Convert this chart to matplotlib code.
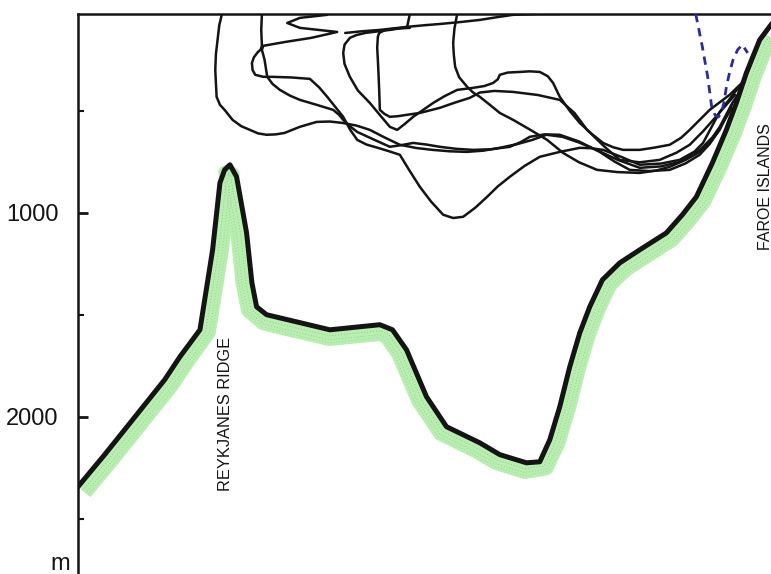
import numpy as np
import matplotlib
matplotlib.use("Agg")
import matplotlib.pyplot as plt

plt.rcParams['font.family'] = ['Liberation Sans', 'DejaVu Sans']

# Bottom profile along the section (distance km, depth m)
bottom_km = [0, 40, 82, 130, 153, 183, 202, 213, 220, 228, 238, 253, 261, 268,
             283, 328, 378, 453, 472, 493, 523, 553, 603, 633, 673, 693, 708,
             723, 738, 753, 768, 787, 813, 843, 883, 907, 928, 952, 973, 988,
             1003, 1023, 1040]
bottom_m = [2342, 2185, 2014, 1818, 1705, 1573, 1181, 853, 789, 764, 823, 1098,
            1343, 1460, 1499, 1534, 1573, 1548, 1573, 1671, 1901, 2048, 2127,
            2185, 2225, 2220, 2112, 1950, 1754, 1588, 1460, 1328, 1245, 1181,
            1098, 1009, 921, 755, 593, 461, 314, 152, 78]

# Float tracks (distance km, depth m)
track_a_km = [216, 212, 210, 207, 206, 208, 213, 220, 232, 245, 258, 270, 283,
              297, 310, 333, 358, 378, 397, 418, 438, 460, 483, 508, 532, 558,
              583, 608, 633, 660, 682, 703, 727, 752, 778, 810, 843, 875, 903,
              925, 938, 952, 963, 982, 993]
track_a_m = [25, 80, 137, 220, 299, 431, 470, 495, 544, 575, 593, 610, 617,
             615, 608, 578, 554, 552, 559, 572, 593, 630, 666, 682, 691, 698,
             701, 695, 681, 662, 642, 617, 627, 655, 691, 740, 779, 772, 750,
             712, 676, 630, 579, 461, 407]

track_b_km = [276, 275, 276, 274, 270, 264, 261, 262, 266, 278, 291, 320, 348,
              362, 374, 386, 398, 408, 419, 433, 450, 466, 483, 497, 513, 530,
              548, 563, 578, 596, 614, 630, 648, 670, 693, 723, 753, 770, 788,
              815, 843, 875, 903, 925, 938, 963, 986, 1000]
track_b_m = [25, 103, 181, 200, 211, 237, 265, 300, 323, 333, 333, 336, 343,
             385, 431, 480, 529, 590, 642, 665, 681, 697, 715, 790, 872, 945,
             1009, 1025, 1019, 975, 921, 870, 823, 770, 725, 701, 681, 683,
             691, 725, 764, 758, 740, 700, 657, 505, 407, 358]

track_c_km = [374, 333, 314, 333, 389, 350, 311, 278, 276, 278, 280, 284, 292,
              303, 318, 333, 358, 383, 392, 398, 408, 419, 445, 468, 485, 503,
              523, 543, 568, 593, 620, 648, 665, 678, 700, 723, 752, 783, 805,
              828, 858, 888, 912, 933, 948, 960, 981]
track_c_m = [29, 44, 69, 93, 113, 142, 162, 181, 201, 225, 250, 333, 368, 397,
             425, 446, 470, 495, 520, 544, 575, 603, 642, 676, 668, 657, 665,
             676, 686, 691, 688, 676, 652, 627, 615, 617, 650, 701, 748, 789,
             795, 789, 757, 715, 662, 603, 485]

track_d_km = [498, 494, 480, 468, 450, 431, 418, 408, 400, 398, 400, 408, 420,
              438, 453, 468, 479, 490, 503, 518, 533, 550, 569, 593, 610, 623,
              630, 633, 645, 663, 678, 693, 705, 713, 723, 738, 753, 770, 788,
              803, 818, 843, 865, 888, 905, 918, 948, 978, 1001]
track_d_m = [25, 88, 97, 103, 110, 118, 128, 142, 175, 216, 270, 333, 400, 461,
             520, 578, 593, 565, 529, 495, 461, 428, 397, 387, 378, 363, 345,
             323, 312, 309, 306, 309, 330, 363, 431, 500, 559, 610, 657, 678,
             691, 691, 680, 666, 632, 593, 495, 421, 348]

track_e_km = [498, 475, 461, 452, 450, 449, 450, 451, 452, 453, 460, 468, 480,
              494, 513, 543, 565, 588, 603, 625, 653, 690, 723, 745, 764, 790,
              813, 843, 873, 898, 918, 938, 956, 986]
track_e_m = [93, 97, 103, 118, 137, 190, 250, 320, 397, 495, 515, 529, 526,
             519, 510, 485, 460, 436, 410, 402, 407, 422, 446, 510, 593, 675,
             740, 752, 740, 705, 666, 600, 534, 421]

track_f_km = [569, 565, 563, 564, 566, 572, 584, 593, 603, 618, 633, 653, 680,
              704, 728, 752, 779, 810, 843, 868, 888, 912, 933, 950, 963, 981]
track_f_m = [25, 95, 167, 225, 284, 335, 382, 410, 431, 470, 510, 544, 595,
             642, 706, 752, 789, 800, 804, 792, 774, 740, 701, 650, 593, 470]

track_g_km = [401, 425, 453, 494, 520, 543, 575, 603, 630, 653, 690, 723]
track_g_m = [118, 110, 103, 88, 80, 74, 64, 54, 40, 29, 25, 25]

# Shallow float (dashed)
shallow_km = [927, 932, 937, 941, 945, 951, 956, 961, 966, 970, 973, 978, 983,
              990, 997, 1005]
shallow_m = [25, 105, 186, 260, 333, 480, 520, 530, 505, 450, 382, 310, 250,
             200, 176, 216]

depth_ticks = [1000, 2000]
depth_minor = [500, 1500, 2500]

tracks = [(track_a_km, track_a_m), (track_b_km, track_b_m),
          (track_c_km, track_c_m), (track_d_km, track_d_m),
          (track_e_km, track_e_m), (track_f_km, track_f_m),
          (track_g_km, track_g_m)]

W, H = 771, 574
fig = plt.figure(figsize=(W / 100, H / 100), dpi=100)
ax = fig.add_axes([78 / W, 0, 693 / W, 560 / H])
ax.set_xlim(0, 1040)
ax.set_ylim(2770, 25)

ink = '#141414'

# Sediment band under the bottom line, offset along the downward normal
bx = np.asarray(bottom_km, float)
bd = np.asarray(bottom_m, float)
disp = ax.transData.transform(np.column_stack([bx, bd]))
tx = np.gradient(disp[:, 0])
ty = np.gradient(disp[:, 1])
nrm = np.hypot(tx, ty)
normal = np.column_stack([ty / nrm, -tx / nrm])
band = ax.transData.inverted().transform(disp + 9.0 * normal)
ax.plot(band[:, 0], band[:, 1], color='#b8efb0', lw=10.5,
        solid_joinstyle='round', solid_capstyle='butt', zorder=1)
# stippled shading inside the band
for off, a in [(6.0, 0.55), (10.0, 0.45), (13.0, 0.35)]:
    speck = ax.transData.inverted().transform(disp + off * normal)
    ax.plot(speck[:, 0], speck[:, 1], color='#6f8a6c', lw=0.6, alpha=a,
            dashes=(1.0, 2.5), zorder=2)

ax.plot(bottom_km, bottom_m, color=ink, lw=3.6, solid_joinstyle='round',
        zorder=3)

for km, m in tracks:
    ax.plot(km, m, color=ink, lw=1.8, solid_joinstyle='round',
            solid_capstyle='round', zorder=4)

ax.plot(shallow_km, shallow_m, color='#2b2b9c', lw=2.0, dashes=(3.0, 2.2),
        zorder=5)

ax.text(222, 1985, 'REYKJANES RIDGE', rotation=90, ha='center', va='center',
        fontsize=11.8, color=ink)
ax.text(1031, 870, 'FAROE ISLANDS', rotation=90, ha='center', va='center',
        fontsize=11.5, color=ink, clip_on=False)

for side in ['right', 'bottom']:
    ax.spines[side].set_visible(False)
for side in ['left', 'top']:
    ax.spines[side].set_linewidth(1.8)
    ax.spines[side].set_color(ink)

ax.set_xticks([])
ax.set_yticks(depth_ticks)
ax.set_yticklabels([str(t) for t in depth_ticks], fontsize=17, color=ink)
ax.set_yticks(depth_minor, minor=True)
ax.tick_params(axis='y', which='major', direction='in', length=7, width=2,
               pad=14, colors=ink)
ax.tick_params(axis='y', which='minor', direction='in', length=4, width=1.5,
               colors=ink)

fig.text(60 / W, 1 - 553 / H, 'm', ha='center', va='top', fontsize=17,
         color=ink)

fig.savefig('out.png', dpi=100)
